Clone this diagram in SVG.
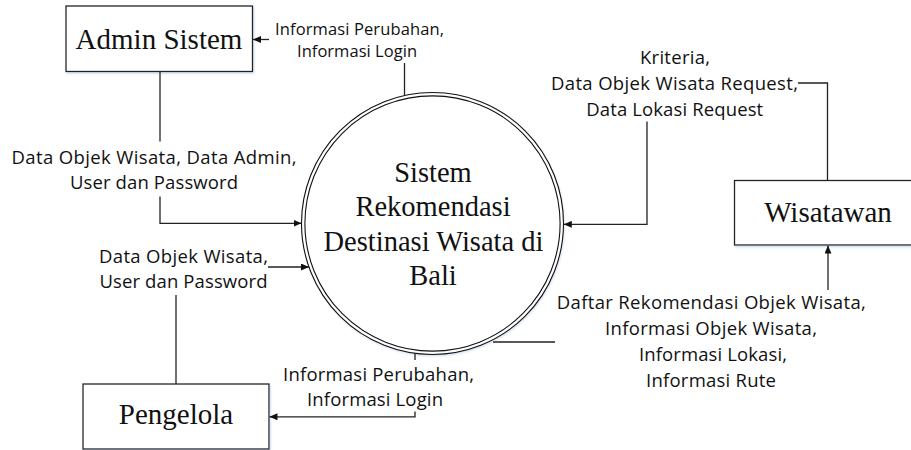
<svg xmlns="http://www.w3.org/2000/svg" width="911" height="450" viewBox="0 0 911 450">
  <defs>
    <marker id="arrow" markerUnits="userSpaceOnUse" viewBox="0 0 8 7" refX="8" refY="3.5" markerWidth="8" markerHeight="7" orient="auto">
      <path d="M0,0 L8,3.5 L0,7 z" fill="#111"/>
    </marker>
    <filter id="shade" x="-10%" y="-10%" width="125%" height="125%">
      <feDropShadow dx="1" dy="1.5" stdDeviation="1" flood-color="#8fb0d8" flood-opacity="0.45"/>
    </filter>
  </defs>
  <style>
    .box { fill: #fff; stroke: #222; stroke-width: 1.3; }
    .ring { fill: none; stroke: #111; stroke-width: 1.1; }
    .name { font-family: "Liberation Serif", "Times New Roman", serif; font-size: 29px; fill: #111; text-anchor: middle; }
    .proc { font-family: "Liberation Serif", "Times New Roman", serif; font-size: 28.5px; fill: #111; text-anchor: middle; }
    .lbl { font-family: "Open Sans", "Noto Sans", sans-serif; font-size: 18.5px; fill: #111; text-anchor: middle; }
    .lbl.sm { font-size: 16.5px; }
    .flow { fill: none; stroke: #222; stroke-width: 1.3; }
  </style>

  <rect width="911" height="450" fill="#fff"/>

  <!-- external entities -->
  <g id="admin-sistem">
    <rect class="box" x="66" y="6" width="186.5" height="65.5" filter="url(#shade)"/>
    <text class="name" x="159" y="48.5">Admin Sistem</text>
  </g>

  <g id="pengelola">
    <rect class="box" x="83" y="384" width="186" height="65" filter="url(#shade)"/>
    <text class="name" x="176" y="424">Pengelola</text>
  </g>

  <g id="wisatawan">
    <rect class="box" x="734.5" y="180.5" width="190" height="64.5" filter="url(#shade)"/>
    <text class="name" x="828" y="221.5">Wisatawan</text>
  </g>

  <!-- the process -->
  <g id="sistem-rekomendasi">
    <circle cx="432.5" cy="223.5" r="131" fill="#fff" filter="url(#shade)"/>
    <circle class="ring" cx="432.5" cy="223.5" r="131"/>
    <circle class="ring" cx="432.5" cy="223.5" r="127.6"/>
    <text class="proc" x="433" y="181.5">Sistem</text>
    <text class="proc" x="433" y="216">Rekomendasi</text>
    <text class="proc" x="433.5" y="251">Destinasi Wisata di</text>
    <text class="proc" x="433" y="285">Bali</text>
  </g>

  <!-- data flows -->
  <g id="connectors">
    <!-- process to Admin Sistem -->
    <path class="flow" d="M404.5,95.6 V63"/>
    <path class="flow" d="M269,39.5 H253" marker-end="url(#arrow)"/>
    <!-- Admin Sistem to process -->
    <path class="flow" d="M160,71.5 V141.5"/>
    <path class="flow" d="M160,196.5 V223.3 H301.5" marker-end="url(#arrow)"/>
    <!-- Pengelola to process -->
    <path class="flow" d="M176,384 V295"/>
    <path class="flow" d="M268,267 H309" marker-end="url(#arrow)"/>
    <!-- process to Pengelola -->
    <path class="flow" d="M415,353.3 V360"/>
    <path class="flow" d="M415,411.5 V416.8 H269.5" marker-end="url(#arrow)"/>
    <!-- Wisatawan to process -->
    <path class="flow" d="M827.5,180.5 V83 H798"/>
    <path class="flow" d="M647,121.5 V224.3 H563.8" marker-end="url(#arrow)"/>
    <!-- process to Wisatawan -->
    <path class="flow" d="M493,342 H555"/>
    <path class="flow" d="M828,290 V245.5" marker-end="url(#arrow)"/>
  </g>

  <!-- flow labels -->
  <g id="labels">
    <text class="lbl sm" x="359.5" y="35" textLength="169">Informasi Perubahan,</text>
    <text class="lbl sm" x="357" y="57" textLength="120">Informasi Login</text>

    <text class="lbl" x="154" y="164" textLength="285">Data Objek Wisata, Data Admin,</text>
    <text class="lbl" x="154" y="189" textLength="168">User dan Password</text>

    <text class="lbl" x="183.5" y="262.5" textLength="169">Data Objek Wisata,</text>
    <text class="lbl" x="183.5" y="287.5" textLength="168">User dan Password</text>

    <text class="lbl" x="378.5" y="380.5" textLength="191">Informasi Perubahan,</text>
    <text class="lbl" x="375" y="406" textLength="136">Informasi Login</text>

    <text class="lbl" x="675" y="64" textLength="70">Kriteria,</text>
    <text class="lbl" x="674.5" y="90" textLength="247">Data Objek Wisata Request,</text>
    <text class="lbl" x="674.7" y="115.5" textLength="177">Data Lokasi Request</text>

    <text class="lbl" x="711.3" y="309" textLength="309">Daftar Rekomendasi Objek Wisata,</text>
    <text class="lbl" x="711" y="335" textLength="212">Informasi Objek Wisata,</text>
    <text class="lbl" x="713" y="361" textLength="148">Informasi Lokasi,</text>
    <text class="lbl" x="711" y="387" textLength="130">Informasi Rute</text>
  </g>
</svg>
